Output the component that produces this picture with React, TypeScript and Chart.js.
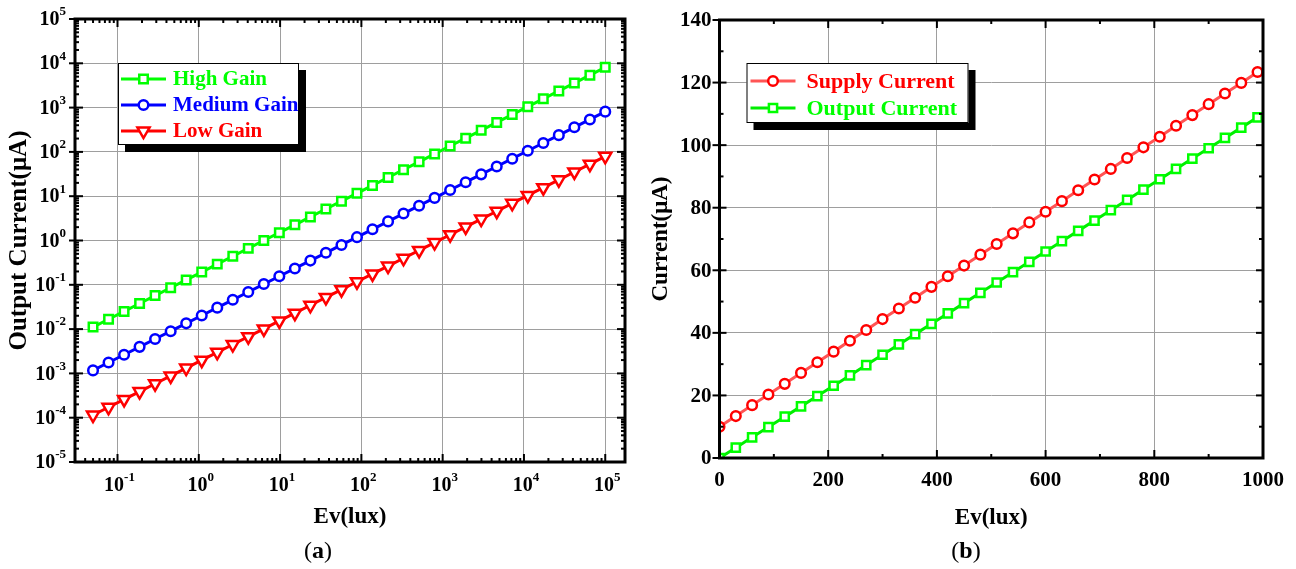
import React, { useEffect, useRef } from 'react';
import { Chart, registerables } from 'chart.js';
Chart.register(...registerables);

const FONT = '"Liberation Serif", "Times New Roman", serif';

// ---------- Panel (a): log-log ----------
const luxA = [0.05, 0.0776, 0.1205, 0.187, 0.29, 0.451, 0.7, 1.087, 1.687, 2.62, 4.06, 6.31, 9.79, 15.2, 23.6, 36.6, 56.9, 88.3, 137, 213, 330, 513, 796, 1236, 1919, 2979, 4624, 7178, 11143, 17298, 26853, 41687, 64714, 100000];
const highGain = [0.0111, 0.0167, 0.0251, 0.0378, 0.057, 0.0858, 0.129, 0.194, 0.293, 0.441, 0.664, 1.0, 1.5, 2.26, 3.41, 5.14, 7.73, 11.6, 17.5, 26.4, 39.7, 59.8, 90.0, 136, 204, 307, 463, 697, 1049, 1580, 2378, 3580, 5390, 8110];
const mediumGain = [0.00117, 0.00176, 0.00264, 0.00397, 0.00597, 0.00897, 0.0135, 0.0203, 0.0305, 0.0458, 0.0689, 0.104, 0.156, 0.234, 0.352, 0.528, 0.794, 1.19, 1.79, 2.7, 4.06, 6.1, 9.16, 13.8, 20.7, 31.1, 46.8, 70.3, 106, 159, 239, 359, 540, 811];
const lowGain = [1.15e-4, 1.72e-4, 2.59e-4, 3.89e-4, 5.85e-4, 8.79e-4, 0.00132, 0.00199, 0.00299, 0.00449, 0.00675, 0.0101, 0.0153, 0.0229, 0.0345, 0.0518, 0.0778, 0.117, 0.176, 0.264, 0.397, 0.598, 0.898, 1.35, 2.03, 3.05, 4.58, 6.89, 10.4, 15.6, 23.4, 35.2, 52.9, 79.5];
const xExpA = [-1, 0, 1, 2, 3, 4, 5];
const yExpA = [-5, -4, -3, -2, -1, 0, 1, 2, 3, 4, 5];
const seriesNamesA = ['High Gain', 'Medium Gain', 'Low Gain'];

// ---------- Panel (b): linear ----------
const luxB = [0, 30, 60, 90, 120, 150, 180, 210, 240, 270, 300, 330, 360, 390, 420, 450, 480, 510, 540, 570, 600, 630, 660, 690, 720, 750, 780, 810, 840, 870, 900, 930, 960, 990];
const supplyCurrent = [10.0, 13.4, 16.9, 20.3, 23.7, 27.2, 30.6, 34.0, 37.5, 40.9, 44.4, 47.8, 51.2, 54.7, 58.1, 61.5, 65.0, 68.4, 71.8, 75.3, 78.7, 82.1, 85.6, 89.0, 92.4, 95.9, 99.3, 102.7, 106.2, 109.6, 113.1, 116.5, 119.9, 123.4];
const outputCurrent = [0, 3.3, 6.6, 9.9, 13.2, 16.5, 19.8, 23.1, 26.4, 29.7, 33.0, 36.3, 39.6, 42.9, 46.2, 49.5, 52.8, 56.1, 59.4, 62.7, 66.0, 69.3, 72.6, 75.9, 79.2, 82.5, 85.8, 89.1, 92.4, 95.7, 99.0, 102.3, 105.6, 108.9];
const xTicksB = [0, 200, 400, 600, 800, 1000];
const yTicksB = [0, 20, 40, 60, 80, 100, 120, 140];
const seriesNamesB = ['Supply Current', 'Output Current'];

const GRID = '#9e9e9e';

function drawMarker(ctx: CanvasRenderingContext2D, style: string, rotation: number, x: number, y: number, r: number, color: string, bw: number) {
  ctx.save();
  ctx.lineWidth = bw;
  ctx.strokeStyle = color;
  ctx.fillStyle = '#fff';
  ctx.beginPath();
  if (style === 'circle') {
    ctx.arc(x, y, r, 0, Math.PI * 2);
  } else if (style === 'rect') {
    const s = r * Math.SQRT1_2;
    ctx.rect(x - s, y - s, 2 * s, 2 * s);
  } else {
    let a = (rotation * Math.PI) / 180;
    ctx.moveTo(x + Math.sin(a) * r, y - Math.cos(a) * r);
    a += (2 * Math.PI) / 3;
    ctx.lineTo(x + Math.sin(a) * r, y - Math.cos(a) * r);
    a += (2 * Math.PI) / 3;
    ctx.lineTo(x + Math.sin(a) * r, y - Math.cos(a) * r);
    ctx.closePath();
  }
  ctx.fill();
  ctx.stroke();
  ctx.restore();
}

function line(ctx: CanvasRenderingContext2D, x1: number, y1: number, x2: number, y2: number) {
  ctx.beginPath();
  ctx.moveTo(x1, y1);
  ctx.lineTo(x2, y2);
  ctx.stroke();
}

function drawPow(ctx: CanvasRenderingContext2D, exp: number, x: number, y: number, align: 'right' | 'center') {
  const base = '10';
  const e = String(exp);
  ctx.font = `bold 20px ${FONT}`;
  const wb = ctx.measureText(base).width;
  ctx.font = `bold 13px ${FONT}`;
  const we = ctx.measureText(e).width;
  const total = wb + we;
  const x0 = align === 'right' ? x - total : x - total / 2;
  ctx.textAlign = 'left';
  ctx.textBaseline = 'middle';
  ctx.font = `bold 20px ${FONT}`;
  ctx.fillText(base, x0, y);
  ctx.font = `bold 13px ${FONT}`;
  ctx.fillText(e, x0 + wb, y - 8);
}

function drawCaption(ctx: CanvasRenderingContext2D, letter: string, cx: number, cy: number) {
  const reg = `24px ${FONT}`;
  const bold = `bold 24px ${FONT}`;
  ctx.font = reg;
  const wp = ctx.measureText('(').width;
  const wq = ctx.measureText(')').width;
  ctx.font = bold;
  const wl = ctx.measureText(letter).width;
  const x0 = cx - (wp + wl + wq) / 2;
  ctx.textAlign = 'left';
  ctx.textBaseline = 'middle';
  ctx.fillStyle = '#000';
  ctx.font = reg;
  ctx.fillText('(', x0, cy);
  ctx.font = bold;
  ctx.fillText(letter, x0 + wp, cy);
  ctx.font = reg;
  ctx.fillText(')', x0 + wp + wl, cy);
}

function drawLegend(chart: any, names: string[], bx: number, by: number, bw: number, bh: number, rowY: number[], sampleX: [number, number], textX: number, fontSize: number, lineColors: string[]) {
  const ctx: CanvasRenderingContext2D = chart.ctx;
  ctx.save();
  ctx.fillStyle = '#000';
  ctx.fillRect(bx + 7, by + 7, bw, bh);
  ctx.fillStyle = '#fff';
  ctx.fillRect(bx, by, bw, bh);
  ctx.strokeStyle = '#000';
  ctx.lineWidth = 1;
  ctx.strokeRect(bx + 0.5, by + 0.5, bw - 1, bh - 1);
  chart.data.datasets.forEach((ds: any, i: number) => {
    const y = rowY[i];
    ctx.strokeStyle = lineColors[i];
    ctx.lineWidth = 3;
    line(ctx, sampleX[0], y, sampleX[1], y);
    drawMarker(ctx, ds.pointStyle, ds.rotation || 0, (sampleX[0] + sampleX[1]) / 2, y, ds.pointRadius, ds.pointBorderColor, ds.pointBorderWidth);
    ctx.fillStyle = ds.pointBorderColor;
    ctx.font = `bold ${fontSize}px ${FONT}`;
    ctx.textAlign = 'left';
    ctx.textBaseline = 'middle';
    ctx.fillText(names[i], textX, y + 1);
  });
  ctx.restore();
}

const decorA = {
  id: 'decorA',
  afterDraw(chart: any) {
    const ctx: CanvasRenderingContext2D = chart.ctx;
    const { left, right, top, bottom } = chart.chartArea;
    const xs = chart.scales.x;
    const ys = chart.scales.y;
    ctx.save();
    ctx.strokeStyle = '#000';
    ctx.fillStyle = '#000';
    ctx.lineWidth = 2;
    for (let e = -2; e <= 5; e++) {
      for (let m = 1; m <= 9; m++) {
        const v = m * Math.pow(10, e);
        if (v < xs.min || v > xs.max) continue;
        const px = xs.getPixelForValue(v);
        const len = m === 1 ? 8 : 4;
        line(ctx, px, bottom, px, bottom - len);
        line(ctx, px, top, px, top + len);
      }
    }
    for (let e = -5; e <= 5; e++) {
      for (let m = 1; m <= 9; m++) {
        const v = m * Math.pow(10, e);
        if (v < ys.min * 0.999 || v > ys.max * 1.001) continue;
        const py = ys.getPixelForValue(v);
        const len = m === 1 ? 8 : 4;
        line(ctx, left, py, left + len, py);
        line(ctx, right, py, right - len, py);
        if (m === 1) line(ctx, left - 6, py, left, py);
      }
    }
    ctx.lineWidth = 3;
    ctx.strokeRect(left, top, right - left, bottom - top);
    ctx.fillStyle = '#000';
    yExpA.forEach((e) => drawPow(ctx, e, left - 9, ys.getPixelForValue(Math.pow(10, e)) + 1, 'right'));
    xExpA.forEach((e) => drawPow(ctx, e, xs.getPixelForValue(Math.pow(10, e)) + 2, bottom + 24, 'center'));
    ctx.font = `bold 23px ${FONT}`;
    ctx.textAlign = 'center';
    ctx.textBaseline = 'middle';
    ctx.fillText('Ev(lux)', (left + right) / 2, bottom + 55);
    ctx.save();
    ctx.translate(20, (top + bottom) / 2);
    ctx.rotate(-Math.PI / 2);
    ctx.font = `bold 25px ${FONT}`;
    ctx.fillText('Output Current(μA)', 0, 0);
    ctx.restore();
    drawCaption(ctx, 'a', 318, 552);
    ctx.restore();
    drawLegend(chart, seriesNamesA, left + 43, top + 44, 181, 82, [top + 60, top + 86, top + 112], [left + 46, left + 91], left + 98, 21, ['#00ff00', '#0000ff', '#ff0000']);
  },
};

const decorB = {
  id: 'decorB',
  afterDraw(chart: any) {
    const ctx: CanvasRenderingContext2D = chart.ctx;
    const { left, right, top, bottom } = chart.chartArea;
    const xs = chart.scales.x;
    const ys = chart.scales.y;
    ctx.save();
    ctx.strokeStyle = '#000';
    ctx.fillStyle = '#000';
    ctx.lineWidth = 2;
    for (let v = 100; v < 1000; v += 100) {
      const px = xs.getPixelForValue(v);
      const len = v % 200 === 0 ? 8 : 4;
      line(ctx, px, bottom, px, bottom - len);
      line(ctx, px, top, px, top + len);
    }
    for (let v = 0; v <= 140; v += 10) {
      const py = ys.getPixelForValue(v);
      const major = v % 20 === 0;
      const len = major ? 7 : 4;
      if (v > 0 && v < 140) {
        line(ctx, left, py, left + len, py);
        line(ctx, right, py, right - len, py);
      }
      if (major) line(ctx, left - 7, py, left, py);
    }
    ctx.lineWidth = 3;
    ctx.strokeRect(left, top, right - left, bottom - top);
    ctx.font = `bold 21px ${FONT}`;
    ctx.textBaseline = 'middle';
    ctx.textAlign = 'right';
    yTicksB.forEach((v) => ctx.fillText(String(v), left - 8, ys.getPixelForValue(v) + 1));
    ctx.textAlign = 'center';
    xTicksB.forEach((v) => ctx.fillText(String(v), xs.getPixelForValue(v), bottom + 23));
    ctx.font = `bold 23px ${FONT}`;
    ctx.fillText('Ev(lux)', (left + right) / 2, bottom + 60);
    ctx.save();
    ctx.translate(left - 58, (top + bottom) / 2);
    ctx.rotate(-Math.PI / 2);
    ctx.fillText('Current(μA)', 0, 0);
    ctx.restore();
    drawCaption(ctx, 'b', 318, 552);
    ctx.restore();
    drawLegend(chart, seriesNamesB, left + 27, top + 43, 222, 60, [top + 61, top + 88], [left + 31, left + 76], left + 87, 22, ['#ff5555', '#00ee00']);
  },
};

function baseScale(extra: any, axis: 'x' | 'y') {
  return {
    display: true,
    ticks: { display: false },
    grid: { color: GRID, lineWidth: 1, drawTicks: false },
    border: { display: false },
    afterFit: (s: any) => {
      if (axis === 'x') s.height = 0;
      else s.width = 0;
    },
    ...extra,
  };
}

export default function App() {
  const refA = useRef<HTMLCanvasElement>(null);
  const refB = useRef<HTMLCanvasElement>(null);

  useEffect(() => {
    const mk = (data: number[], x: number[]) => data.map((y, i) => ({ x: x[i], y }));
    const common = { borderWidth: 3, pointBorderWidth: 2.5, pointBackgroundColor: '#fff', tension: 0 };
    const chartA = new Chart(refA.current!, {
      type: 'line',
      data: {
        datasets: [
          { ...common, label: seriesNamesA[0], data: mk(highGain, luxA), borderColor: '#00ff00', pointBorderColor: '#00ff00', pointStyle: 'rect', pointRadius: 6 },
          { ...common, label: seriesNamesA[1], data: mk(mediumGain, luxA), borderColor: '#0000ff', pointBorderColor: '#0000ff', pointStyle: 'circle', pointRadius: 4.8 },
          { ...common, label: seriesNamesA[2], data: mk(lowGain, luxA), borderColor: '#ff0000', pointBorderColor: '#ff0000', pointStyle: 'triangle', rotation: 180, pointRotation: 180, pointRadius: 7 },
        ] as any,
      },
      options: {
        animation: false,
        responsive: false,
        layout: { padding: { left: 75, top: 19, right: 23, bottom: 107 } },
        plugins: { legend: { display: false }, tooltip: { enabled: false } },
        scales: {
          x: baseScale({
            type: 'logarithmic', min: 0.03, max: 175000,
            afterBuildTicks: (s: any) => { s.ticks = xExpA.map((e) => ({ value: Math.pow(10, e) })); },
          }, 'x'),
          y: baseScale({
            type: 'logarithmic', min: 1e-5, max: 1e5,
            afterBuildTicks: (s: any) => { s.ticks = yExpA.map((e) => ({ value: Math.pow(10, e) })); },
          }, 'y'),
        },
      } as any,
      plugins: [decorA],
    });
    const chartB = new Chart(refB.current!, {
      type: 'line',
      data: {
        datasets: [
          { ...common, label: seriesNamesB[0], data: mk(supplyCurrent, luxB), borderColor: '#ff5555', pointBorderColor: '#ff0000', pointStyle: 'circle', pointRadius: 4.8 },
          { ...common, label: seriesNamesB[1], data: mk(outputCurrent, luxB), borderColor: '#00ee00', pointBorderColor: '#00ff00', pointStyle: 'rect', pointRadius: 5.8 },
        ] as any,
      },
      options: {
        animation: false,
        responsive: false,
        layout: { padding: { left: 71.5, top: 20, right: 33, bottom: 111 } },
        plugins: { legend: { display: false }, tooltip: { enabled: false } },
        scales: {
          x: baseScale({
            type: 'linear', min: 0, max: 1000,
            afterBuildTicks: (s: any) => { s.ticks = xTicksB.map((v) => ({ value: v })); },
          }, 'x'),
          y: baseScale({
            type: 'linear', min: 0, max: 140,
            afterBuildTicks: (s: any) => { s.ticks = yTicksB.map((v) => ({ value: v })); },
          }, 'y'),
        },
      } as any,
      plugins: [decorB],
    });
    return () => {
      chartA.destroy();
      chartB.destroy();
    };
  }, []);

  return (
    <div style={{ position: 'fixed', left: 0, top: 0, width: 1296, height: 569, background: '#fff', display: 'flex' }}>
      <canvas ref={refA} width={648} height={569} style={{ width: 648, height: 569, display: 'block' }} />
      <canvas ref={refB} width={648} height={569} style={{ width: 648, height: 569, display: 'block' }} />
    </div>
  );
}
